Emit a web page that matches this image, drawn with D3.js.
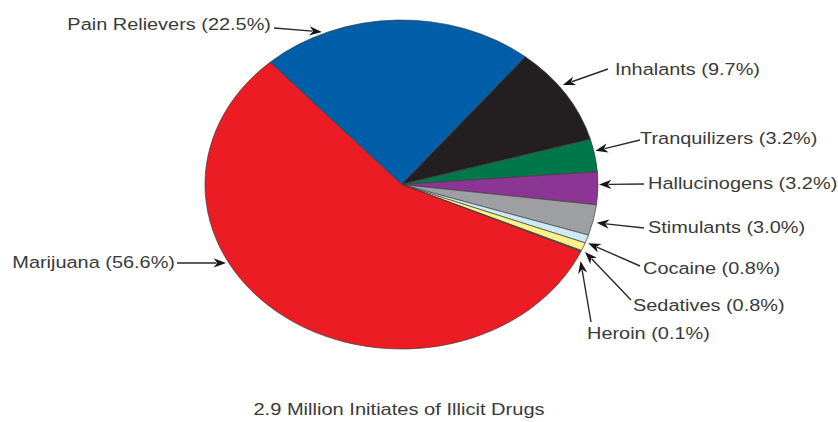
<!DOCTYPE html>
<html>
<head>
<meta charset="utf-8">
<script src="https://cdn.jsdelivr.net/npm/d3@7"></script>
<style>
  html, body { margin: 0; padding: 0; background: #fff; }
  svg { display: block; }
  text { font-family: "Liberation Sans", Arial, Helvetica, sans-serif; fill: #3a3a3a; }
</style>
</head>
<body>
<svg id="chart" width="838" height="422"></svg>
<script>
// ---- data ----
const categories = ["Pain Relievers", "Inhalants", "Tranquilizers", "Hallucinogens", "Stimulants", "Cocaine", "Sedatives", "Heroin", "Marijuana"];
const percents   = [22.5, 9.7, 3.2, 3.2, 3.0, 0.8, 0.8, 0.1, 56.6];
const colors     = ["#005ea8", "#231f20", "#00774a", "#8b3594", "#9d9fa2", "#cfeaf6", "#fdf28c", "#3f9a3c", "#ec1c24"];
const title      = "2.9 Million Initiates of Illicit Drugs";

// ---- layout (annotation placement) ----
const cx = 401.5, cy = 184.5, ry = 164.5, rx = 196.5;
const sx = rx / ry; // horizontal stretch of the original picture
const startDeg = -42;
const labelLayout = [
  { tx: 271, ty: 30,  anchor: "end",   ax: 274, ay: 28,  tipDeg: -23.6, tipR: 1.012 },
  { tx: 615, ty: 75,  anchor: "start", ax: 608, ay: 69,  tipDeg: 53.6,  tipR: 1.02 },
  { tx: 640, ty: 144, anchor: "start", ax: 640, ay: 140, tipDeg: 78.3,  tipR: 1.008 },
  { tx: 648, ty: 189, anchor: "start", ax: 644, ay: 184, tipDeg: 90,    tipR: 1.005 },
  { tx: 648, ty: 233, anchor: "start", ax: 644, ay: 228, tipDeg: 103.2, tipR: 1.02 },
  { tx: 643, ty: 274, anchor: "start", ax: 640, ay: 266, tipDeg: 110.6, tipR: 1.015 },
  { tx: 633, ty: 311, anchor: "start", ax: 631, ay: 300, tipDeg: 113.7, tipR: 1.02 },
  { tx: 587, ty: 339, anchor: "start", ax: 591, ay: 322, tipDeg: 117,   tipR: 1.023 },
  { tx: 175, ty: 268, anchor: "end",   ax: 177, ay: 263, tipDeg: 241.9, tipR: 1.012 }
];

const svg = d3.select("#chart");
const rad = d => d * Math.PI / 180;

const pie = d3.pie().sort(null).value(d => d)
  .startAngle(rad(startDeg)).endAngle(rad(startDeg) + 2 * Math.PI);
const arc = d3.arc().innerRadius(0).outerRadius(ry);

const g = svg.append("g").attr("transform", `translate(${cx},${cy}) scale(${sx},1)`);
g.selectAll("path.slice")
  .data(pie(percents))
  .join("path")
  .attr("class", "slice")
  .attr("d", arc)
  .attr("fill", (d, i) => colors[i])
  .attr("stroke", "#3c3c3c")
  .attr("stroke-width", 0.7)
  .attr("stroke-linejoin", "round")
  .attr("vector-effect", "non-scaling-stroke");

// arrows + labels
const ann = svg.append("g");
categories.forEach((c, i) => {
  const L = labelLayout[i];
  const a = rad(L.tipDeg);
  const tipX = cx + rx * L.tipR * Math.sin(a);
  const tipY = cy - ry * L.tipR * Math.cos(a);
  const dx = tipX - L.ax, dy = tipY - L.ay;
  const len = Math.hypot(dx, dy);
  const ux = dx / len, uy = dy / len;
  const headLen = 12.5, headW = 4.6;
  const bx = tipX - ux * headLen, by = tipY - uy * headLen;
  ann.append("line")
    .attr("x1", L.ax).attr("y1", L.ay)
    .attr("x2", bx + ux * 3).attr("y2", by + uy * 3)
    .attr("stroke", "#2a2a2a").attr("stroke-width", 1.4);
  const notch = 0.3;
  ann.append("path")
    .attr("d", `M${tipX},${tipY} L${bx - uy * headW},${by + ux * headW} L${bx + ux * headLen * notch},${by + uy * headLen * notch} L${bx + uy * headW},${by - ux * headW} Z`)
    .attr("fill", "#161616");
  svg.append("text")
    .attr("transform", `translate(${L.tx},${L.ty}) scale(1.2,1)`)
    .attr("text-anchor", L.anchor)
    .attr("font-size", 16.6)
    .text(`${c} (${percents[i].toFixed(1)}%)`);
});

svg.append("text")
  .attr("transform", `translate(399,415) scale(1.24,1)`)
  .attr("text-anchor", "middle")
  .attr("font-size", 16.2)
  .text(title);
</script>
</body>
</html>
